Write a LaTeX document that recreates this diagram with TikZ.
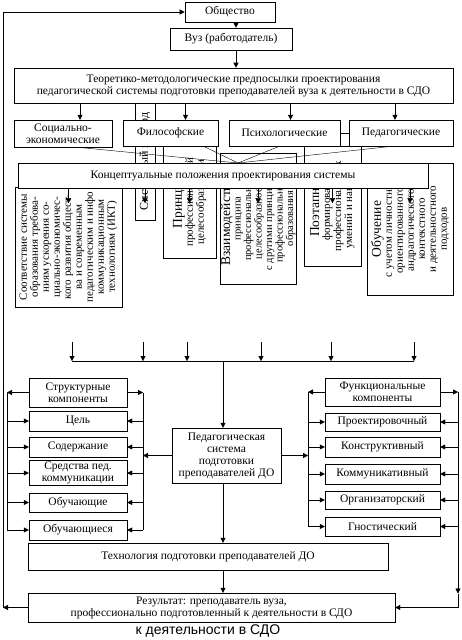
\documentclass[tikz,border=0pt]{standalone}
\usepackage{fontspec}
\setmainfont{Liberation Serif}
\newfontfamily\capfont{Liberation Sans}
\usepackage{tikz}
\usetikzlibrary{arrows.meta}
\pgfdeclarelayer{bg}
\pgfdeclarelayer{fg}
\pgfsetlayers{bg,main,fg}

\begin{document}
\begin{tikzpicture}[x=1pt, y=-1pt, line width=0.6pt,
    box/.style={draw, fill=white, align=center, inner sep=1pt, font=\fontsize{11.5}{12}\selectfont},
    vbox/.style={draw, fill=white, align=center, inner sep=0pt, rotate=90, font=\fontsize{11}{11}\selectfont},
    arr/.style={-{Triangle[length=5pt,width=5pt]}}]
    \useasboundingbox (0,0) rectangle (462,640);
    \coordinate (mid) at (236,0);
    \coordinate (lp) at (3,0);
    \coordinate (lo) at (7,0);
    \coordinate (li) at (143,0);
    \coordinate (ri) at (308,0);
    \coordinate (ro) at (458,0);
    \coordinate (bus) at (223,361);
    \coordinate (fan) at (238,163);

    \node[box, minimum width=90pt, minimum height=20pt] (obsch) at (230,12) {Общество};
    \node[box, minimum width=122pt, minimum height=22pt] (vuz) at (231,39) {Вуз (работодатель)};
    \node[box, minimum width=439pt, minimum height=35pt] (teor) at (233.5,85.5) {Теоретико-методологические предпосылки проектирования\\педагогической системы подготовки преподавателей вуза к деятельности в СДО};
    \draw[arr] (obsch.south -| mid) -- (vuz.north -| mid);
    \draw[arr] (vuz.south -| mid) -- (teor.north -| mid);

    \begin{pgfonlayer}{bg}
        \node[vbox, minimum width=120pt, minimum height=107pt] (v1) at (68.5,247) {Соответствие системы\\образования требова-\\ниям ускорения со-\\циально-экономичес-\\кого развития общест-\\ва и современным\\педагогическим и инфо\\коммуникационным\\технологиям (ИКТ)};
        \node[vbox, minimum width=117pt, minimum height=20pt, font=\fontsize{12}{12}\selectfont] (v2) at (145,161.5) {Системный подход};
        \node[vbox, minimum width=112pt, minimum height=53pt] (v3) at (189.5,202) {{\fontsize{13.5}{13.5}\selectfont Принцип}\\профессиональной\\целесообразности};
        \node[vbox, minimum width=131pt, minimum height=76pt, font=\fontsize{10.5}{10.5}\selectfont] (v4) at (258,218.5) {{\fontsize{13.5}{13.5}\selectfont Взаимодействие}\\принципа\\профессиональной\\целесообразности\\с другими принципами\\профессионального\\образования};
        \node[vbox, minimum width=120pt, minimum height=57pt] (v5) at (332.5,206) {{\fontsize{13.5}{13.5}\selectfont Поэтапное}\\формирование\\профессиональных\\умений и навыков};
        \node[vbox, minimum width=132pt, minimum height=86pt] (v6) at (410,229) {{\fontsize{13.5}{13.5}\selectfont Обучение}\\с учетом личностно-\\ориентированного,\\андрагогического,\\контекстного\\и деятельностного\\подходов};
    \end{pgfonlayer}

    \begin{pgfonlayer}{fg}
        \node[box, minimum width=98pt, minimum height=27pt] (soc) at (63,133.5) {Социально-\\экономические};
        \node[box, minimum width=95pt, minimum height=26pt] (fil) at (170.5,133) {Философские};
        \node[box, minimum width=111pt, minimum height=26pt] (psy) at (284.5,133) {Психологические};
        \node[box, minimum width=104pt, minimum height=26pt] (ped) at (401,133) {Педагогические};
        \node[box, minimum width=410pt, minimum height=25pt] (konc) at (223,175.5) {Концептуальные положения проектирования системы};
        \foreach \n/\d in {soc/17,fil/15,psy/6,ped/-6}
            \draw[arr] ([xshift=\d pt]\n.north |- teor.south) -- ([xshift=\d pt]\n.north);
        \draw (psy.east) -- (ped.west);
        \foreach \n in {v1,v2,v3,v4,v5,v6}
            \draw[arr] (\n |- konc.south) -- ++(0,15);
    \end{pgfonlayer}
    \draw (fan) -- ([xshift=14pt]soc.south);
    \draw (fan) -- ([xshift=33pt]fil.south);
    \draw (fan) -- ([xshift=-5pt]psy.south);
    \draw (fan) -- ([xshift=-8pt]ped.south);

    \foreach \i/\x in {1/72,2/143,3/187,4/261,5/331,6/414} {
        \coordinate (s\i) at (\x,342);
        \draw[arr] (s\i) -- (s\i |- bus);
    }
    \draw (s1 |- bus) -- (s6 |- bus);

    \node[box, minimum width=109pt, minimum height=55pt] (pedsys) at (226.5,455.5) {Педагогическая\\система\\подготовки\\преподавателей ДО};
    \draw[arr] (bus) -- (bus |- pedsys.north);

    \node[box, minimum width=98pt, minimum height=29pt] (struct) at (78,392.5) {Структурные\\компоненты};
    \node[box, minimum width=98pt, minimum height=20pt] (cel) at (78,421) {Цель};
    \node[box, minimum width=98pt, minimum height=20pt] (sod) at (78,447) {Содержание};
    \node[box, minimum width=98pt, minimum height=25pt] (sred) at (78,473) {Средства пед.\\коммуникации};
    \node[box, minimum width=98pt, minimum height=19pt] (obuch) at (78,502.5) {Обучающие};
    \node[box, minimum width=98pt, minimum height=20pt] (obuchsya) at (78,530) {Обучающиеся};
    \draw[arr] (struct.west) -- (struct.west -| lo);
    \draw[arr] (struct.east) -- (struct.east -| li);
    \draw (struct.west -| lo) -- (obuchsya.west -| lo);
    \draw (struct.east -| li) -- (obuchsya.east -| li);
    \foreach \n in {cel,sod,sred,obuch,obuchsya} {
        \draw[arr] (\n.west -| lo) -- (\n.west);
        \draw[arr] (\n.east -| li) -- (\n.east);
    }
    \draw[arr] (pedsys.west) -- (pedsys.west -| li);

    \node[box, minimum width=115pt, minimum height=28pt] (func) at (382.5,392) {Функциональные\\компоненты};
    \node[box, minimum width=115pt, minimum height=18pt] (proekt) at (382.5,422) {Проектировочный};
    \node[box, minimum width=115pt, minimum height=20pt] (konstr) at (382.5,447) {Конструктивный};
    \node[box, minimum width=115pt, minimum height=20pt] (kommun) at (382.5,474) {Коммуникативный};
    \node[box, minimum width=115pt, minimum height=18pt] (organ) at (382.5,500) {Организаторский};
    \node[box, minimum width=115pt, minimum height=19pt] (gnost) at (382.5,526.5) {Гностический};
    \draw[arr] (func.west) -- (func.west -| ri);
    \draw[arr] (func.east) -- (func.east -| ro);
    \draw (func.west -| ri) -- (gnost.west -| ri);
    \foreach \n in {proekt,konstr,kommun,organ,gnost} {
        \draw[arr] (\n.west -| ri) -- (\n.west);
        \draw[arr] (\n.east -| ro) -- (\n.east);
    }
    \draw[arr] (pedsys.east) -- (pedsys.east -| ri);

    \node[box, minimum width=360pt, minimum height=27pt] (tech) at (208,556.5) {Технология подготовки преподавателей ДО};
    \node[box, minimum width=367pt, minimum height=29pt] (res) at (211.5,607.5) {Результат: преподаватель вуза,\\профессионально подготовленный к деятельности в СДО};
    \draw[arr] (pedsys.south -| bus) -- (tech.north -| bus);
    \draw[arr] (tech.south -| bus) -- (res.north -| bus);

    \draw[arr] (func.east -| ro) -- ([yshift=14pt]res.east -| ro);
    \draw[arr] ([yshift=14pt]res.east -| ro) -- (res.east -| ro) -- (res.east);
    \draw[arr] (res.west) -- (res.west -| lp);
    \draw[arr] (res.west -| lp) -- (lp |- obsch.west) -- (obsch.west);

    \node[font=\capfont\fontsize{14}{15}\selectfont] (capt) at (208,631) {к деятельности в СДО};
\end{tikzpicture}
\end{document}
